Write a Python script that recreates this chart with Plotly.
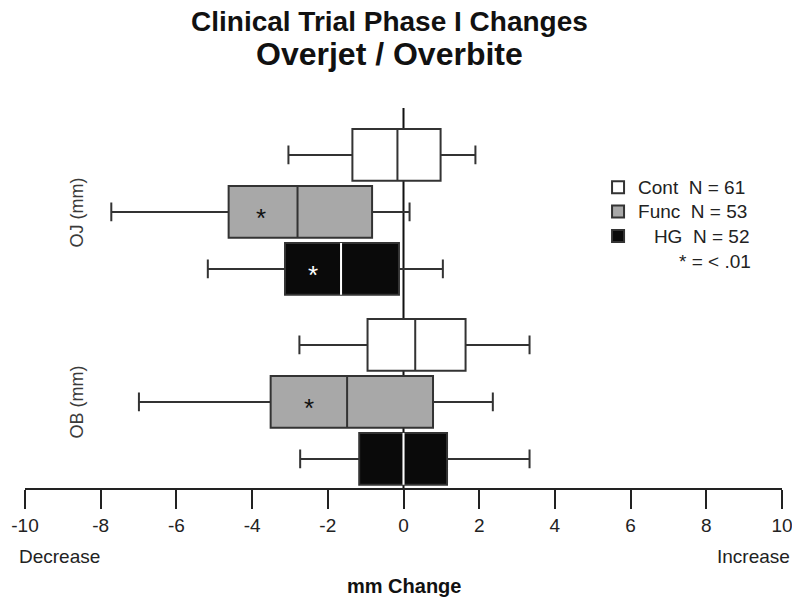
import plotly.graph_objects as go

# ── Data (mm change) ──────────────────────────────────────────────────────────
measures = ["OJ (mm)", "OB (mm)"]
groups = ["Cont", "Func", "HG"]
group_n = [61, 53, 52]

# one entry per measure: [OJ, OB]
cont_low = [-3.04, -2.75]
cont_q1 = [-1.35, -0.95]
cont_med = [-0.16, 0.31]
cont_q3 = [0.98, 1.64]
cont_high = [1.90, 3.33]

func_low = [-7.72, -6.99]
func_q1 = [-4.62, -3.51]
func_med = [-2.80, -1.49]
func_q3 = [-0.83, 0.78]
func_high = [0.16, 2.36]

hg_low = [-5.17, -2.73]
hg_q1 = [-3.13, -1.17]
hg_med = [-1.65, 0.00]
hg_q3 = [-0.12, 1.15]
hg_high = [1.04, 3.33]

# significant (p < .01) boxes and where the star sits
star_measure = ["OJ (mm)", "OJ (mm)", "OB (mm)"]
star_group = ["Func", "HG", "Func"]
star_x = [-3.76, -2.40, -2.49]

x_ticks = [-10, -8, -6, -4, -2, 0, 2, 4, 6, 8, 10]

# ── Style ─────────────────────────────────────────────────────────────────────
FONT = "Liberation Sans, Arial, sans-serif"
INK = "#222222"
LINE = "#333333"
FILLS = {"Cont": "#ffffff", "Func": "#a8a8a8", "HG": "#0a0a0a"}
STAR_COLORS = {"Cont": "#111111", "Func": "#111111", "HG": "#ffffff"}

# the page body adds an 8px margin on every side; keep the figure inside it
FIG_W, FIG_H = 784, 589
PLOT_W, PLOT_H = 758, 380
M_L, M_T = 16.5, 100
Y_RANGE = [1.453, -0.547]
BOXGAP = 0.1
px_per_cat = PLOT_H / abs(Y_RANGE[0] - Y_RANGE[1])
slot_px = (1 - BOXGAP) * px_per_cat / len(groups)

stats = {
    "Cont": (cont_low, cont_q1, cont_med, cont_q3, cont_high),
    "Func": (func_low, func_q1, func_med, func_q3, func_high),
    "HG": (hg_low, hg_q1, hg_med, hg_q3, hg_high),
}

fig = go.Figure()
for g, n in zip(groups, group_n):
    low, q1, med, q3, high = stats[g]
    label = g if g != "HG" else "\u00a0\u00a0\u00a0HG"
    fig.add_trace(go.Box(
        y=measures, q1=q1, median=med, q3=q3, lowerfence=low, upperfence=high,
        orientation="h",
        name=f"<span style='font-size:19px'>{label}\u00a0\u00a0N = {n}</span>",
        offsetgroup=g, alignmentgroup="all",
        fillcolor=FILLS[g], line=dict(color=LINE, width=2),
        whiskerwidth=0.36, boxpoints=False, hoverinfo="x",
    ))
    if g == "HG":
        # white median on the black boxes: a zero-width box at the median
        fig.add_trace(go.Box(
            y=measures, q1=med, median=med, q3=med, lowerfence=med, upperfence=med,
            orientation="h", offsetgroup=g, alignmentgroup="all",
            fillcolor="rgba(0,0,0,0)", line=dict(color="#ffffff", width=2),
            whiskerwidth=0, boxpoints=False, showlegend=False, hoverinfo="skip",
        ))

# zero reference line
fig.add_shape(type="line", x0=0, x1=0, xref="x", y0=0, y1=1, yref="paper",
              line=dict(color="#111111", width=2), layer="below")

# significance stars
for m, g, sx in zip(star_measure, star_group, star_x):
    shift = -(groups.index(g) - 1) * slot_px
    fig.add_annotation(x=sx, y=m, yshift=shift - 6, text="*", showarrow=False,
                       xanchor="center", yanchor="middle",
                       font=dict(family=FONT, size=26, color=STAR_COLORS[g]))

# y labels (rotated, inside the frame)
for m in measures:
    fig.add_annotation(x=0.068, xref="paper", y=m, text=m, textangle=-90,
                       xanchor="center", yanchor="middle", showarrow=False,
                       font=dict(family=FONT, size=18, color="#3a3a3a"))


def paper_text(text, x, y, size, xanchor="center", color=INK):
    fig.add_annotation(x=x, y=y, xref="paper", yref="paper", text=text,
                       xanchor=xanchor, yanchor="middle", showarrow=False,
                       font=dict(family=FONT, size=size, color=color))


# titles and axis captions
paper_text("<b>Clinical Trial Phase I Changes</b>", 0.481, 1.228, 28, color="#111111")
paper_text("<b>Overjet / Overbite</b>", 0.481, 1.142, 32, color="#111111")
paper_text("Decrease", -0.011, -0.179, 19, xanchor="left")
paper_text("Increase", 1.013, -0.179, 19, xanchor="right")
paper_text("<b>mm Change</b>", 0.5, -0.258, 20, color="#111111")
paper_text("*\u00a0=\u00a0<\u00a0.01", 0.962, 0.597, 19, xanchor="right")

fig.update_layout(
    width=FIG_W, height=FIG_H,
    margin=dict(l=M_L, r=FIG_W - M_L - PLOT_W, t=M_T, b=FIG_H - M_T - PLOT_H),
    paper_bgcolor="white", plot_bgcolor="white",
    font=dict(family=FONT, color=INK),
    boxmode="group", boxgap=BOXGAP, boxgroupgap=0.09,
    showlegend=True,
    legend=dict(x=0.757, y=0.837, xanchor="left", yanchor="top",
                font=dict(family=FONT, size=16.5, color=INK),
                bgcolor="rgba(0,0,0,0)", tracegroupgap=0),
    xaxis=dict(range=[-10, 10], tickvals=x_ticks, ticktext=[str(t) for t in x_ticks],
               showgrid=False, zeroline=False, automargin=False,
               ticklabeloverflow="allow",
               showline=True, linecolor=INK, linewidth=2,
               ticks="outside", ticklen=19, tickwidth=2, tickcolor=INK,
               tickfont=dict(family=FONT, size=19, color=INK)),
    yaxis=dict(type="category", categoryorder="array", categoryarray=measures,
               range=Y_RANGE, showgrid=False, zeroline=False, showline=False,
               showticklabels=False, ticks="", automargin=False),
)

fig.write_html("out.html")
